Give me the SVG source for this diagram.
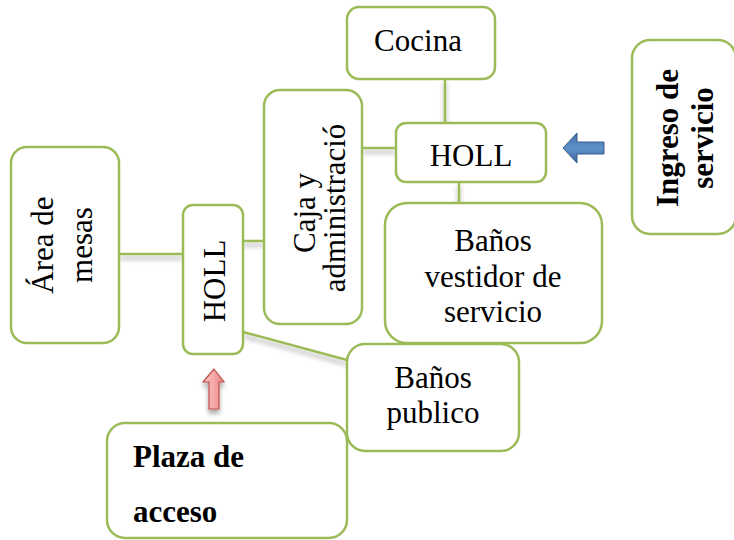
<svg xmlns="http://www.w3.org/2000/svg" width="734" height="540" viewBox="0 0 734 540">
<defs>
<filter id="sh" x="-20%" y="-50%" width="140%" height="300%">
<feGaussianBlur in="SourceAlpha" stdDeviation="2.5"/>
<feOffset dx="0" dy="4" result="b"/>
<feComponentTransfer><feFuncA type="linear" slope="0.35"/></feComponentTransfer>
<feMerge><feMergeNode/><feMergeNode in="SourceGraphic"/></feMerge>
</filter>
<linearGradient id="red" x1="0" y1="0" x2="1" y2="0">
<stop offset="0" stop-color="#f7c6c5"/><stop offset="0.5" stop-color="#f5a9a8"/><stop offset="1" stop-color="#e98684"/>
</linearGradient>
<linearGradient id="blue" x1="0" y1="0" x2="0" y2="1">
<stop offset="0" stop-color="#3f6ea6"/><stop offset="0.5" stop-color="#5f91c9"/><stop offset="1" stop-color="#3a679c"/>
</linearGradient>
</defs>
<style>
.box{fill:#fff;stroke:#9bbb59;stroke-width:2.5}
.ln{stroke:#9bbb59;stroke-width:2.5;fill:none}
.t{font-family:"Liberation Serif","Times New Roman",serif;font-size:31px;fill:#000;text-anchor:middle}
.b{font-weight:bold}
</style>
<rect width="734" height="540" fill="#fff"/>
<g id="connectors" filter="url(#sh)">
<line class="ln" x1="119" y1="254" x2="183" y2="254"/>
<line class="ln" x1="243" y1="241" x2="264" y2="241"/>
<line class="ln" x1="362" y1="148" x2="396" y2="148"/>
<line class="ln" x1="445" y1="79" x2="445" y2="123"/>
<line class="ln" x1="459" y1="182" x2="459" y2="203"/>
<line class="ln" x1="243" y1="332" x2="347" y2="360"/>
</g>
<g id="area-mesas">
<rect class="box" x="11" y="147" width="108" height="196" rx="16"/>
<text class="t" transform="translate(53,245) rotate(-90)">Área de</text>
<text class="t" transform="translate(92,245) rotate(-90)">mesas</text>
</g>
<g id="holl-1">
<rect class="box" x="183" y="205" width="60" height="149" rx="10"/>
<text class="t" transform="translate(225,281) rotate(-90)">HOLL</text>
</g>
<g id="caja">
<rect class="box" x="264" y="90" width="98" height="234" rx="16"/>
<text class="t" transform="translate(315,213) rotate(-90)">Caja y</text>
<text class="t" transform="translate(345,208) rotate(-90)">administració</text>
</g>
<g id="cocina">
<rect class="box" x="347" y="7" width="148" height="72" rx="12"/>
<text class="t" x="418" y="51">Cocina</text>
</g>
<g id="holl-2">
<rect class="box" x="396" y="123" width="150" height="59" rx="10"/>
<text class="t" x="471" y="166">HOLL</text>
</g>
<g id="banos-vestidor">
<rect class="box" x="385" y="203" width="217" height="140" rx="22"/>
<text class="t" x="493" y="251">Baños</text>
<text class="t" x="493" y="287">vestidor de</text>
<text class="t" x="493" y="322">servicio</text>
</g>
<g id="banos-publico">
<rect class="box" x="347" y="344" width="172" height="107" rx="18"/>
<text class="t" x="433" y="388">Baños</text>
<text class="t" x="433" y="423">publico</text>
</g>
<g id="plaza-acceso">
<rect class="box" x="107" y="423" width="240" height="115" rx="18"/>
<text class="t b" x="133" y="467" text-anchor="start" style="text-anchor:start">Plaza de</text>
<text class="t b" x="133" y="522" style="text-anchor:start">acceso</text>
</g>
<g id="ingreso-servicio">
<rect class="box" x="632" y="40" width="104" height="194" rx="18"/>
<text class="t b" transform="translate(678,138) rotate(-90)">Ingreso de</text>
<text class="t b" transform="translate(713,138) rotate(-90)">servicio</text>
</g>
<g id="arrow-up" filter="url(#sh)">
<path d="M214,369 L224,382 L219,382 L219,409 L209,409 L209,382 L203,382 Z" fill="url(#red)" stroke="#c0504d" stroke-width="1.2"/>
</g>
<g id="arrow-left">
<path d="M563,148 L577,133 L577,142 L604,142 L604,154 L577,154 L577,163 Z" fill="url(#blue)" stroke="#385d8a" stroke-width="1"/>
</g>
</svg>
